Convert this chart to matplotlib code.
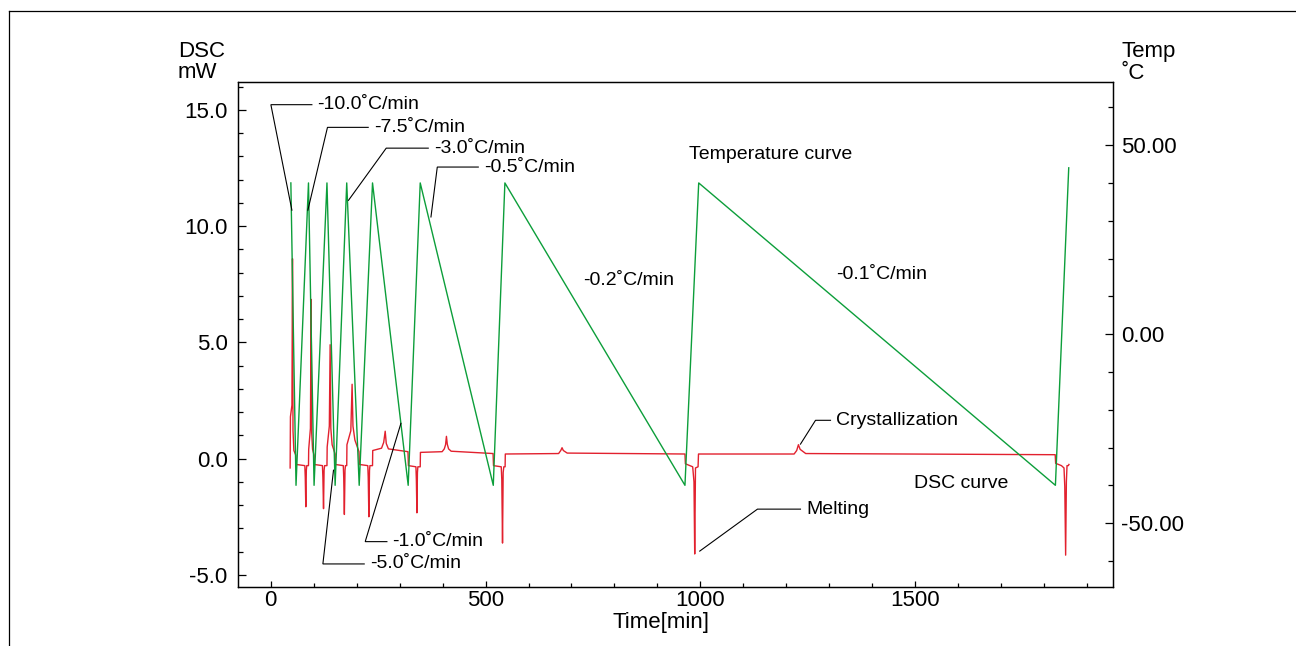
import matplotlib
matplotlib.use('Agg')
import matplotlib.pyplot as plt
from matplotlib.ticker import MultipleLocator, FormatStrFormatter
from matplotlib.lines import Line2D

# ------------------------------- Data --------------------------------------- #

# temperature programme (time in min, temperature in C)
temp_time = [47, 59, 88, 101, 131, 150, 177, 206, 237, 320, 348, 518,
             545, 964, 996, 1826, 1857]
temp_c = [40, -40, 40, -40, 40, -40, 40, -40, 40, -40, 40, -40,
          40, -40, 40, -40, 44]

# DSC signal (time in min, heat flow in mW)
dsc_time = [
    45.3, 46.0, 49.5, 50.8, 52.0, 54.0, 58.5, 59.5, 79.5, 80.5, 81.8, 83.0, 84.0, 88.0,
    88.5, 92.5, 94.2, 95.5, 97.5, 101.0, 101.5, 120.5, 121.5, 123.0, 124.3, 125.5, 131.0,
    131.5, 136.5, 138.4, 140.0, 143.0, 150.0, 150.5, 169.0, 170.0, 171.5, 173.0, 174.0, 177.0,
    177.5, 186.5, 189.5, 191.5, 196.0, 205.5, 206.5, 226.0, 227.0, 228.5, 230.0, 231.0, 237.0,
    237.5, 258.0, 263.0, 266.5, 269.0, 274.0, 319.5, 320.5, 338.0, 339.0, 340.3, 341.5, 342.5, 348.0,
    348.5, 399.0, 404.0, 407.0, 409.0, 411.0, 414.0, 420.0, 517.5, 518.5, 536.5, 537.8, 539.5,
    541.0, 542.5, 545.5,
    546.0, 670.0, 675.0, 678.0, 681.0, 690.0, 964.0, 965.0, 982.0, 985.0, 986.7, 988.5, 994.5,
    995.5, 1218.0, 1224.0, 1228.0, 1232.0, 1245.0, 1825.5, 1826.5, 1840.0, 1846.0, 1847.8, 1849.8,
    1851.5, 1853.0, 1856.0, 1857.5,
]
dsc_mw = [
    -0.4, 1.8, 2.3, 8.6, 1.2, 0.35, 0.15, -0.25, -0.3, -0.8, -2.07, -0.5, -0.3, -0.3,
    0.4, 1.3, 6.85, 1.1, 0.4, 0.15, -0.25, -0.3, -0.8, -2.15, -0.5, -0.3, -0.3,
    0.5, 1.4, 4.9, 1.3, 0.6, 0.2, -0.25, -0.3, -0.8, -2.4, -0.5, -0.3, -0.3,
    0.6, 1.2, 3.2, 1.4, 0.8, 0.3, -0.25, -0.3, -0.8, -2.5, -0.5, -0.3, -0.3,
    0.35, 0.45, 0.7, 1.18, 0.65, 0.42, 0.3, -0.3, -0.35, -0.9, -2.33, -0.6, -0.35, -0.35,
    0.27, 0.3, 0.42, 0.6, 0.96, 0.62, 0.42, 0.32, 0.22, -0.3, -0.35, -0.9, -3.63,
    -0.6, -0.35, -0.35,
    0.2, 0.22, 0.35, 0.47, 0.35, 0.24, 0.2, -0.22, -0.35, -1.0, -4.1, -0.4, -0.35,
    0.2, 0.2, 0.35, 0.6, 0.4, 0.22, 0.17, -0.2, -0.3, -0.4, -1.2, -4.15,
    -1.0, -0.3, -0.3, -0.25,
]

dsc_ticks = [-5, 0, 5, 10, 15]
temp_ticks = [-50, 0, 50]
time_ticks = [0, 500, 1000, 1500]

# leaders (time, C on the temperature axis): tip -> elbow -> end
ann_labels = ['-10.0˚C/min', '-7.5˚C/min', '-3.0˚C/min', '-0.5˚C/min',
              '-1.0˚C/min', '-5.0˚C/min', 'Melting', 'Crystallization']
ann_tips = [(49.4, 32.8), (86.6, 32.8), (181.1, 35.4), (373.0, 31.0),
            (303.1, -23.6), (146.2, -36.0), (998.4, -57.4), (1232.8, -29.1)]
ann_elbows = [(0.5, 60.7), (132.2, 54.7), (268.9, 49.2), (387.7, 44.2),
              (220.0, -54.9), (121.5, -60.8), (1132.7, -46.3), (1267.8, -22.8)]
ann_ends = [(95.9, 60.7), (227.0, 54.7), (366.7, 49.2), (483.1, 44.2),
            (270.5, -54.9), (217.7, -60.8), (1232.8, -46.3), (1302.7, -22.8)]

free_labels = ['Temperature curve', '-0.2˚C/min', '-0.1˚C/min', 'DSC curve']
free_pos = [(974.4, 47.4), (727.6, 14.3), (1316.6, 15.9), (1498.0, -39.4)]

# ------------------------------- Style -------------------------------------- #

GREEN = '#0c9e3a'
RED = '#e2212e'
W, H = 1296, 646

plt.rcParams['font.family'] = ['Liberation Sans', 'DejaVu Sans']
plt.rcParams['axes.unicode_minus'] = False

# ------------------------------- Figure ------------------------------------- #

fig = plt.figure(figsize=(W / 100, H / 100), dpi=100)
ax = fig.add_axes([238 / W, 1 - 587 / H, (1113 - 238) / W, (587 - 82) / H])
ax2 = ax.twinx()

ax.plot(dsc_time, dsc_mw, color=RED, lw=1.0)
ax2.plot(temp_time, temp_c, color=GREEN, lw=1.0)

ax.set_xlim(-76, 1960)
ax.set_ylim(-5.52, 16.2)
ax2.set_ylim(-66.9, 66.7)

ax.set_xticks(time_ticks)
ax.xaxis.set_minor_locator(MultipleLocator(100))
ax.set_yticks(dsc_ticks)
ax.yaxis.set_minor_locator(MultipleLocator(1))
ax.yaxis.set_major_formatter(FormatStrFormatter('%.1f'))
ax2.set_yticks(temp_ticks)
ax2.yaxis.set_minor_locator(MultipleLocator(10))
ax2.yaxis.set_major_formatter(FormatStrFormatter('%.2f'))

ax.tick_params(axis='x', which='both', direction='in', top=False, labelsize=16, pad=2)
ax.tick_params(axis='x', which='major', length=4.5, width=0.9)
ax.tick_params(axis='x', which='minor', length=3, width=0.9)
ax.tick_params(axis='y', which='both', direction='in', right=False, labelsize=16, pad=7.5)
ax.tick_params(axis='y', which='major', length=5.5, width=0.9)
ax.tick_params(axis='y', which='minor', length=3.6, width=0.9)
ax2.tick_params(axis='y', which='both', direction='in', labelsize=16, pad=5.5)
ax2.tick_params(axis='y', which='major', length=5.5, width=0.9)
ax2.tick_params(axis='y', which='minor', length=3.6, width=0.9)

for a in (ax, ax2):
    for s in a.spines.values():
        s.set_linewidth(0.9)
        s.set_color('black')

# leaders and labels
for lab, tip, elb, end in zip(ann_labels, ann_tips, ann_elbows, ann_ends):
    ax2.plot([tip[0], elb[0], end[0]], [tip[1], elb[1], end[1]],
             color='black', lw=0.8, solid_joinstyle='miter')
    ax2.annotate(lab, xy=end, xytext=(4, 0), textcoords='offset points',
                 va='center', ha='left', fontsize=14)

for lab, pos in zip(free_labels, free_pos):
    ax2.text(pos[0], pos[1], lab, va='center', ha='left', fontsize=14)

# axis titles
fig.text(178 / W, 1 - 57 / H, 'DSC', fontsize=16, va='baseline')
fig.text(178 / W, 1 - 78 / H, 'mW', fontsize=16, va='baseline')
fig.text(1121 / W, 1 - 56.5 / H, 'Temp', fontsize=16, va='baseline')
fig.text(1121 / W, 1 - 79 / H, '˚C', fontsize=16, va='baseline')
fig.text(661 / W, 1 - 628 / H, 'Time[min]', fontsize=16, ha='center', va='baseline')

# outer frame
fig.add_artist(Line2D([8.5 / W, 8.5 / W], [0, 1 - 11 / H], color='black', lw=0.9))
fig.add_artist(Line2D([8.5 / W, 1], [1 - 11 / H, 1 - 11 / H], color='black', lw=0.9))

fig.savefig('out.png', dpi=100)
